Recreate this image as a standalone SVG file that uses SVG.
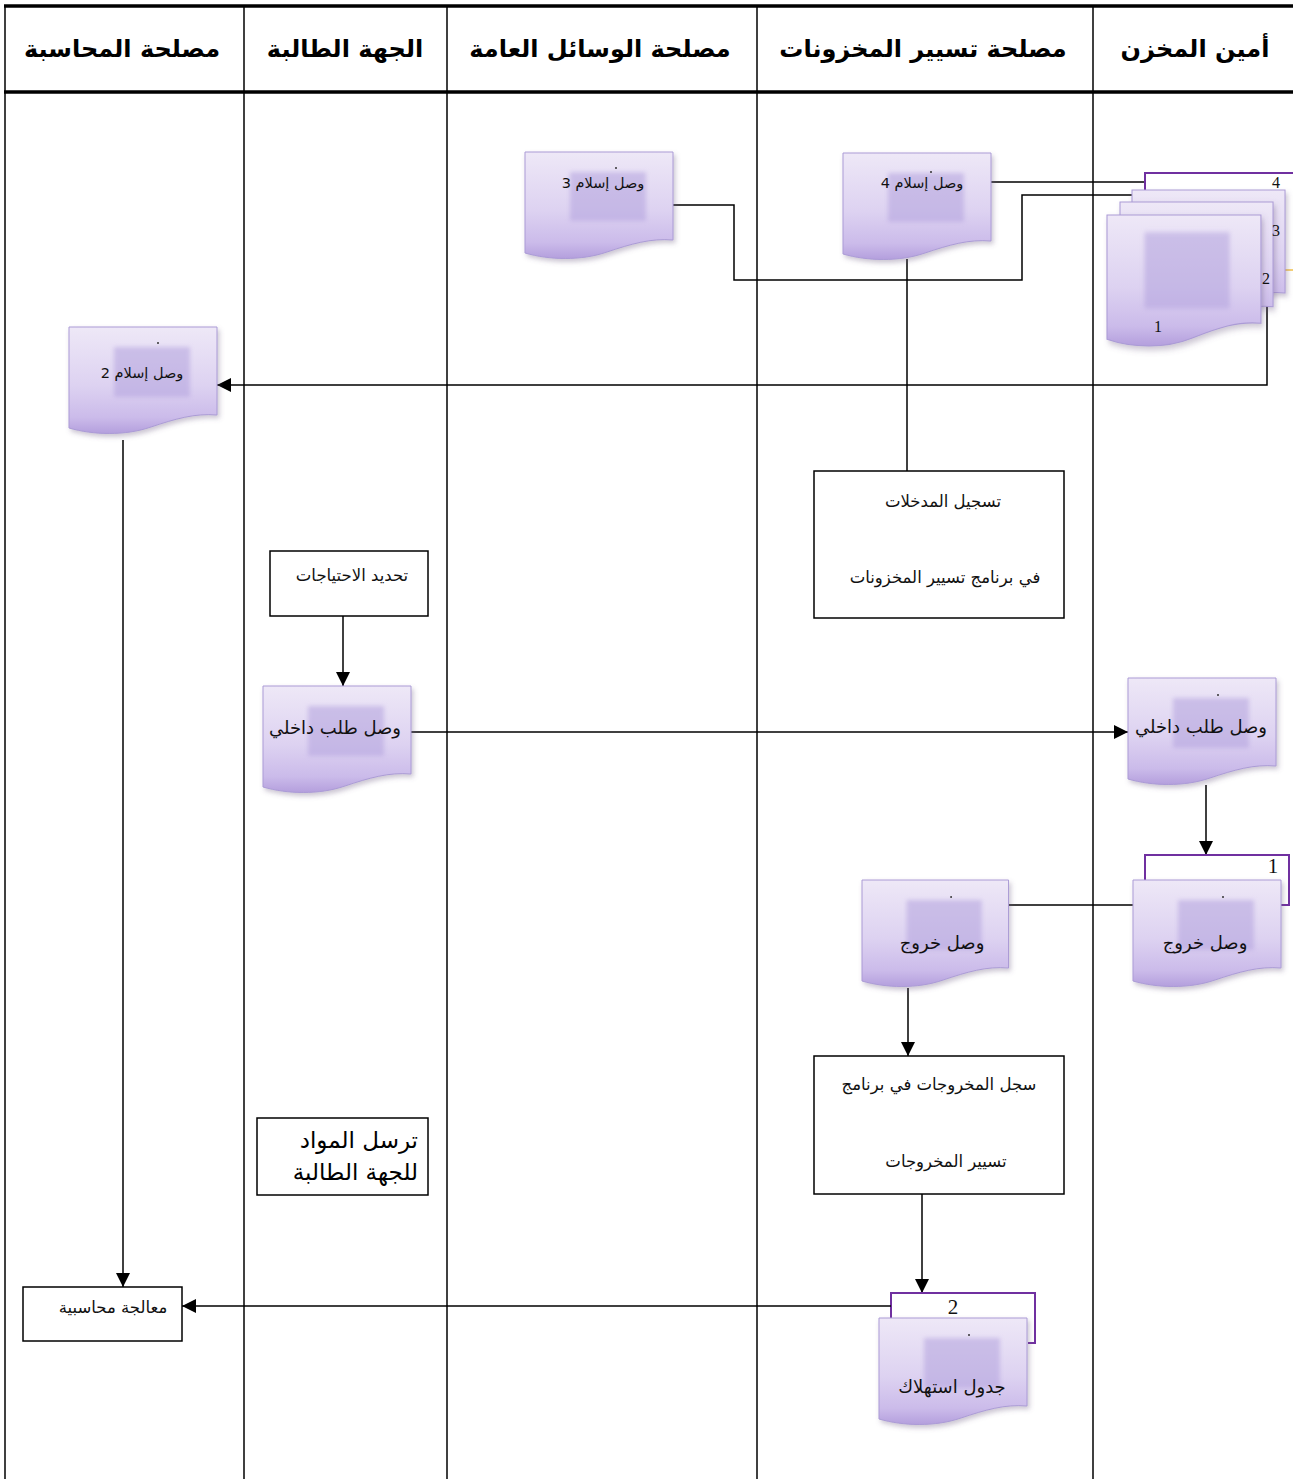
<svg xmlns="http://www.w3.org/2000/svg" xmlns:xlink="http://www.w3.org/1999/xlink" width="1293" height="1479" viewBox="0 0 1293 1479">
  <style>
    .lane { stroke: #000; stroke-width: 1.5; fill: none; }
    .thick { stroke: #000; stroke-width: 3.5; fill: none; }
    .hdr { font-family: "DejaVu Sans", sans-serif; font-weight: bold; font-size: 24px; text-anchor: middle; direction: rtl; fill: #000; }
    .ar { font-family: "DejaVu Sans", sans-serif; font-size: 16.5px; text-anchor: middle; direction: rtl; fill: #111; }
    .ar-s { font-size: 14.5px; }
    .ar-l { font-size: 18px; }
    .sans { font-family: "DejaVu Sans", "Liberation Sans", sans-serif; font-size: 23px; text-anchor: start; direction: rtl; fill: #000; }
    .num { font-family: "Liberation Serif", serif; font-size: 16px; text-anchor: middle; fill: #111; }
    .num-l { font-size: 21px; }
    .conn { fill: none; stroke: #000; stroke-width: 1.5; }
    .arrow { marker-end: url(#arr); }
    .brk { fill: none; stroke: #7030a0; stroke-width: 2; }
    .box { fill: #fff; stroke: #000; stroke-width: 1.5; }
    .docbody { fill: url(#docFill); stroke: #ab9bd6; stroke-width: 1; filter: url(#shadow); }
    .inner { fill: #b3a3de; opacity: 0.55; filter: url(#soft); }
  </style>
  <defs>
    <linearGradient id="docFill" x1="0" y1="0" x2="0" y2="1">
      <stop offset="0" stop-color="#eee8f7"/>
      <stop offset="0.55" stop-color="#ddd2f1"/>
      <stop offset="0.85" stop-color="#cbbbea"/>
      <stop offset="1" stop-color="#b49fdd"/>
    </linearGradient>
    <filter id="shadow" x="-10%" y="-10%" width="125%" height="130%">
      <feDropShadow dx="2" dy="3" stdDeviation="2.5" flood-color="#6a5a80" flood-opacity="0.35"/>
    </filter>
    <filter id="soft" x="-20%" y="-20%" width="140%" height="140%">
      <feGaussianBlur stdDeviation="2"/>
    </filter>
    <marker id="arr" viewBox="0 0 10 10" refX="10" refY="5" markerWidth="14" markerHeight="14" markerUnits="userSpaceOnUse" orient="auto">
      <path d="M0,0 L10,5 L0,10 z" fill="#000"/>
    </marker>
    <!-- document shape with wavy bottom, 148 x 106 -->
    <path id="doc" d="M0,0 H148 V88 C126,86 106,92 82,100 C56,109 24,108 0,101 Z"/>
  </defs>

  <rect width="1293" height="1479" fill="#fff"/>

  <!-- swimlane grid -->
  <g id="lanes">
    <line class="thick" x1="4" y1="6" x2="1293" y2="6"/>
    <line class="thick" x1="4" y1="92" x2="1293" y2="92"/>
    <line class="lane" x1="5" y1="6" x2="5" y2="1479"/>
    <line class="lane" x1="244" y1="6" x2="244" y2="1479"/>
    <line class="lane" x1="447" y1="6" x2="447" y2="1479"/>
    <line class="lane" x1="757" y1="6" x2="757" y2="1479"/>
    <line class="lane" x1="1093" y1="6" x2="1093" y2="1479"/>
    <text class="hdr" x="122" y="57">مصلحة المحاسبة</text>
    <text class="hdr" x="345" y="57">الجهة الطالبة</text>
    <text class="hdr" x="600" y="57">مصلحة الوسائل العامة</text>
    <text class="hdr" x="923" y="57">مصلحة تسيير المخزونات</text>
    <text class="hdr" x="1195" y="57">أمين المخزن</text>
  </g>

  <!-- connectors -->
  <g id="connectors">
    <path class="conn" d="M673,205 H734 V280 H1022 V195 H1132"/>
    <path class="conn" d="M991,182 H1145"/>
    <path class="brk" d="M1145,192 V173 H1293"/>
    <path class="conn" d="M907,259 V471"/>
    <path class="conn arrow" d="M1267,300 V385 H217"/>
    <path class="conn arrow" d="M123,440 V1287"/>
    <path class="conn arrow" d="M343,616 V686"/>
    <path class="conn arrow" d="M411,732 H1128"/>
    <path class="conn arrow" d="M1206,785 V855"/>
    <path class="brk" d="M1145,880 V855 H1289 V905 H1281"/>
    <path class="conn" d="M1008,905 H1133"/>
    <path class="conn arrow" d="M908,988 V1056"/>
    <path class="conn arrow" d="M922,1194 V1293"/>
    <path class="brk" d="M891,1318 V1293 H1035 V1343 H1028"/>
    <path class="conn arrow" d="M891,1306 H182"/>
    <line x1="1282" y1="270" x2="1293" y2="270" stroke="#f2c24a" stroke-width="1.5"/>
  </g>

  <!-- receipt copies stack (store keeper) -->
  <g id="receiptStack">
    <g transform="translate(1132,190) scale(1.034,1.17)">
      <use href="#doc" class="docbody"/>
    </g>
    <g transform="translate(1120,202) scale(1.034,1.19)">
      <use href="#doc" class="docbody"/>
    </g>
    <g transform="translate(1107,215) scale(1.04,1.23)">
      <use href="#doc" class="docbody"/>
      <rect class="inner" x="36" y="14" width="82" height="62"/>
    </g>
    <text class="num" x="1276" y="188">4</text>
    <text class="num" x="1276" y="236">3</text>
    <text class="num" x="1266" y="284">2</text>
    <text class="num" x="1158" y="332">1</text>
  </g>

  <g id="receipt3">
    <g transform="translate(525,152)">
      <use href="#doc" class="docbody"/>
      <rect class="inner" x="45" y="20" width="76" height="49"/>
      <circle cx="91" cy="16" r="1" fill="#333"/>
    </g>
    <text class="ar ar-s" x="603" y="188">وصل إسلام 3</text>
  </g>

  <g id="receipt4">
    <g transform="translate(843,153)">
      <use href="#doc" class="docbody"/>
      <rect class="inner" x="45" y="20" width="76" height="49"/>
      <circle cx="88" cy="19" r="1" fill="#333"/>
    </g>
    <text class="ar ar-s" x="922" y="188">وصل إسلام 4</text>
  </g>

  <g id="receipt2">
    <g transform="translate(69,327)">
      <use href="#doc" class="docbody"/>
      <rect class="inner" x="45" y="20" width="76" height="50"/>
      <circle cx="89" cy="16" r="1" fill="#333"/>
    </g>
    <text class="ar ar-s" x="142" y="378">وصل إسلام 2</text>
  </g>

  <g id="recordEntries">
    <rect class="box" x="814" y="471" width="250" height="147"/>
    <text class="ar" x="943" y="507">تسجيل المدخلات</text>
    <text class="ar" x="945" y="583">في برنامج تسيير المخزونات</text>
  </g>

  <g id="needs">
    <rect class="box" x="270" y="551" width="158" height="65"/>
    <text class="ar" x="352" y="581">تحديد الاحتياجات</text>
  </g>

  <g id="requestLeft">
    <g transform="translate(263,686)">
      <use href="#doc" class="docbody"/>
      <rect class="inner" x="45" y="20" width="76" height="50"/>
    </g>
    <text class="ar ar-l" x="335" y="734">وصل طلب داخلي</text>
  </g>

  <g id="requestRight">
    <g transform="translate(1128,678)">
      <use href="#doc" class="docbody"/>
      <rect class="inner" x="45" y="20" width="76" height="50"/>
      <circle cx="90" cy="17" r="1" fill="#333"/>
    </g>
    <text class="ar ar-l" x="1201" y="733">وصل طلب داخلي</text>
  </g>

  <g id="exitRight">
    <g transform="translate(1133,880)">
      <use href="#doc" class="docbody"/>
      <rect class="inner" x="45" y="20" width="76" height="50"/>
      <circle cx="90" cy="17" r="1" fill="#333"/>
    </g>
    <text class="num num-l" x="1273" y="873">1</text>
    <text class="ar ar-l" x="1205" y="949">وصل خروج</text>
  </g>

  <g id="exitMiddle">
    <g transform="translate(862,880) scale(0.99,1)">
      <use href="#doc" class="docbody"/>
      <rect class="inner" x="45" y="20" width="76" height="50"/>
      <circle cx="90" cy="17" r="1" fill="#333"/>
    </g>
    <text class="ar ar-l" x="942" y="949">وصل خروج</text>
  </g>

  <g id="recordExits">
    <rect class="box" x="814" y="1056" width="250" height="138"/>
    <text class="ar" x="939" y="1090">سجل المخروجات في برنامج</text>
    <text class="ar" x="946" y="1167">تسيير المخروجات</text>
  </g>

  <g id="sendMaterials">
    <rect class="box" x="257" y="1118" width="171" height="77"/>
    <text class="sans" x="418" y="1148">ترسل المواد</text>
    <text class="sans" x="418" y="1180">للجهة الطالبة</text>
  </g>

  <g id="accounting">
    <rect class="box" x="23" y="1287" width="159" height="54"/>
    <text class="ar" x="113" y="1313">معالجة محاسبية</text>
  </g>

  <g id="consumptionTable">
    <g transform="translate(879,1318)">
      <use href="#doc" class="docbody"/>
      <rect class="inner" x="45" y="20" width="76" height="50"/>
      <circle cx="90" cy="17" r="1" fill="#333"/>
    </g>
    <text class="num num-l" x="953" y="1314">2</text>
    <text class="ar ar-l" x="952" y="1393">جدول استهلاك</text>
  </g>
</svg>
